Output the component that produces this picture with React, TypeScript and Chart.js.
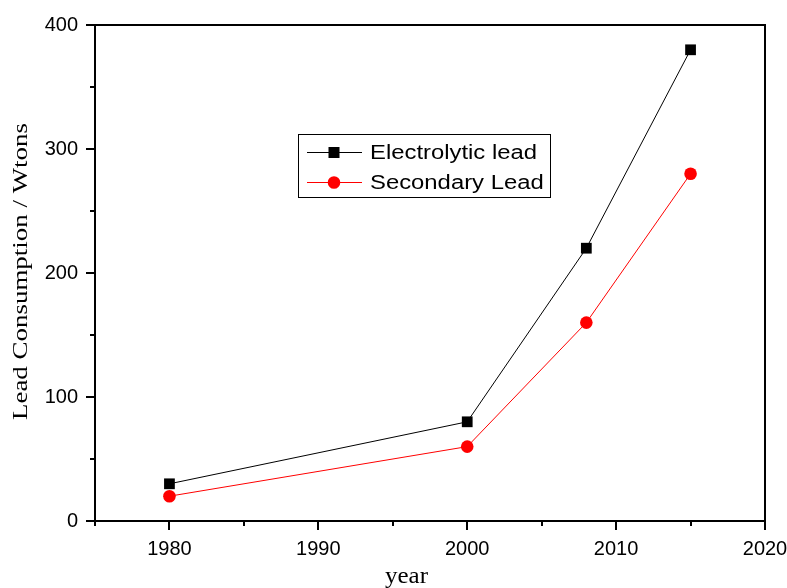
import React, { useEffect, useRef } from 'react';
import { Chart, registerables } from 'chart.js';

Chart.register(...registerables);

const years = [1980, 2000, 2008, 2015];
const electrolytic = [30, 80, 220, 380];
const secondary = [20, 60, 160, 280];
const seriesNames = ['Electrolytic lead', 'Secondary Lead'];
const seriesColors = ['#000000', '#ff0000'];
const seriesMarkers = ['rect', 'circle'];
const xTitle = 'year';
const yTitle = 'Lead Consumption / Wtons';
const xRange = [1975, 2020];
const yRange = [0, 400];

const SANS = '"Liberation Sans", Arial, sans-serif';
const SERIF = '"Liberation Serif", "Times New Roman", serif';

function fitText(ctx: CanvasRenderingContext2D, text: string, x: number, y: number, targetW: number) {
  const w = ctx.measureText(text).width;
  const s = targetW / w;
  ctx.save();
  ctx.translate(x, y);
  ctx.scale(s, 1);
  ctx.fillText(text, 0, 0);
  ctx.restore();
}

const decorPlugin = {
  id: 'decor',
  afterDraw(chart: any) {
    const ctx: CanvasRenderingContext2D = chart.ctx;
    const { left, right, top, bottom } = chart.chartArea;
    ctx.save();
    // frame
    ctx.strokeStyle = '#000';
    ctx.lineWidth = 2;
    ctx.strokeRect(left, top, right - left, bottom - top);
    // x ticks
    const xs = chart.scales.x;
    xs.ticks.forEach((t: any) => {
      const px = Math.round(xs.getPixelForValue(t.value));
      const major = t.value % 10 === 0;
      ctx.beginPath();
      ctx.moveTo(px, bottom);
      ctx.lineTo(px, bottom + (major ? 9 : 5));
      ctx.stroke();
    });
    const ys = chart.scales.y;
    ys.ticks.forEach((t: any) => {
      const py = Math.round(ys.getPixelForValue(t.value));
      const major = t.value % 100 === 0;
      ctx.beginPath();
      ctx.moveTo(left, py);
      ctx.lineTo(left - (major ? 9 : 5), py);
      ctx.stroke();
    });

    // axis titles
    ctx.fillStyle = '#000';
    ctx.textAlign = 'left';
    ctx.textBaseline = 'alphabetic';
    ctx.font = `24px ${SERIF}`;
    fitText(ctx, xTitle, 385, 583, 43);
    ctx.save();
    ctx.translate(27, 420);
    ctx.rotate(-Math.PI / 2);
    ctx.font = `21px ${SERIF}`;
    fitText(ctx, yTitle, 0, 0, 297);
    ctx.restore();

    // legend
    ctx.lineWidth = 1;
    ctx.strokeStyle = '#000';
    ctx.strokeRect(298.5, 134.5, 252, 63);
    ctx.font = `20px ${SANS}`;
    ctx.textBaseline = 'middle';
    const sc = 167 / ctx.measureText(seriesNames[0]).width;
    const rows = [152, 182];
    seriesNames.forEach((name, i) => {
      const y = rows[i];
      ctx.strokeStyle = seriesColors[i];
      ctx.fillStyle = seriesColors[i];
      ctx.lineWidth = 1;
      ctx.beginPath();
      ctx.moveTo(307, y + 0.5);
      ctx.lineTo(362, y + 0.5);
      ctx.stroke();
      if (seriesMarkers[i] === 'rect') {
        ctx.fillRect(334 - 5.5, y - 5, 11, 11);
      } else {
        ctx.beginPath();
        ctx.arc(334, y + 0.5, 6.3, 0, Math.PI * 2);
        ctx.fill();
      }
      ctx.fillStyle = '#000';
      ctx.save();
      ctx.translate(370, y + 1);
      ctx.scale(sc, 1);
      ctx.fillText(name, 0, 0);
      ctx.restore();
    });
    ctx.restore();
  },
};

export default function App() {
  const ref = useRef<HTMLCanvasElement>(null);
  useEffect(() => {
    document.body.style.margin = '0';
    const chart = new Chart(ref.current!, {
      type: 'line',
      data: {
        datasets: [
          {
            label: seriesNames[0],
            data: years.map((x, i) => ({ x, y: electrolytic[i] })),
            borderColor: seriesColors[0],
            backgroundColor: seriesColors[0],
            borderWidth: 1,
            pointStyle: 'rect',
            pointRadius: 7.6,
            pointBorderWidth: 0,
          },
          {
            label: seriesNames[1],
            data: years.map((x, i) => ({ x, y: secondary[i] })),
            borderColor: seriesColors[1],
            backgroundColor: seriesColors[1],
            borderWidth: 1,
            pointStyle: 'circle',
            pointRadius: 6.3,
            pointBorderWidth: 0,
          },
        ],
      },
      options: {
        animation: false,
        responsive: true,
        maintainAspectRatio: false,
        layout: { padding: { left: 0, top: 25, right: 22, bottom: 0 } },
        plugins: { legend: { display: false }, tooltip: { enabled: false } },
        scales: {
          x: {
            type: 'linear',
            min: xRange[0],
            max: xRange[1],
            grid: { display: false, drawTicks: false },
            border: { display: false },
            ticks: {
              stepSize: 5,
              autoSkip: false,
              maxRotation: 0,
              padding: 16,
              color: '#000',
              font: { family: SANS, size: 20 },
              callback: (v: any) => (Number(v) % 10 === 0 ? String(v) : ''),
            },
            afterFit: (s: any) => {
              s.height = 67;
              s.paddingLeft = 0; s.paddingRight = 0; s.paddingTop = 0; s.paddingBottom = 0;
            },
          },
          y: {
            min: yRange[0],
            max: yRange[1],
            grid: { display: false, drawTicks: false },
            border: { display: false },
            ticks: {
              stepSize: 50,
              autoSkip: false,
              padding: 17,
              color: '#000',
              font: { family: SANS, size: 20 },
              callback: (v: any) => (Number(v) % 100 === 0 ? String(v) : ''),
            },
            afterFit: (s: any) => {
              s.width = 95;
              s.paddingLeft = 0; s.paddingRight = 0; s.paddingTop = 0; s.paddingBottom = 0;
            },
          },
        },
      },
      plugins: [decorPlugin],
    });
    return () => chart.destroy();
  }, []);
  return (
    <div style={{ position: 'relative', width: 787, height: 588 }}>
      <canvas ref={ref} />
    </div>
  );
}
